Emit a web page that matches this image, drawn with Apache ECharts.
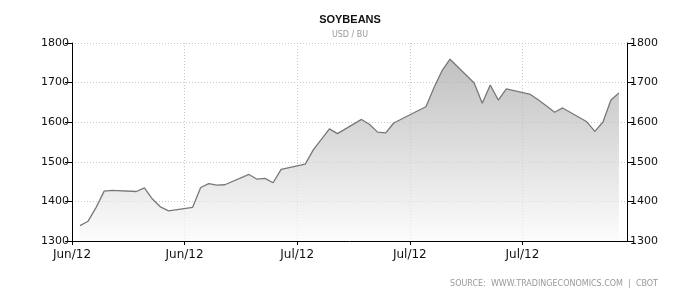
<!DOCTYPE html>
<html>
<head>
<meta charset="utf-8">
<script src="https://cdn.jsdelivr.net/npm/echarts@6/dist/echarts.min.js"></script>
<style>html,body{margin:0;padding:0;background:#fff;}#c{width:700px;height:300px;}</style>
</head>
<body>
<div id="c"></div>
<script>
const dates = [
  '2012-06-04','2012-06-05','2012-06-06','2012-06-07','2012-06-08',
  '2012-06-11','2012-06-12','2012-06-13','2012-06-14','2012-06-15',
  '2012-06-18','2012-06-19','2012-06-20','2012-06-21','2012-06-22',
  '2012-06-25','2012-06-26','2012-06-27','2012-06-28','2012-06-29',
  '2012-07-02','2012-07-03','2012-07-05','2012-07-06',
  '2012-07-09','2012-07-10','2012-07-11','2012-07-12','2012-07-13',
  '2012-07-16','2012-07-17','2012-07-18','2012-07-19','2012-07-20',
  '2012-07-23','2012-07-24','2012-07-25','2012-07-26','2012-07-27',
  '2012-07-30','2012-07-31','2012-08-01','2012-08-02','2012-08-03',
  '2012-08-06','2012-08-07','2012-08-08','2012-08-09','2012-08-10'
];
const prices = [
  1339,1350,1385,1426,1428,
  1425,1434,1406,1386,1376,
  1385,1435,1445,1441,1442,
  1468,1456,1458,1447,1481,
  1494,1530,1583,1571,
  1607,1594,1575,1573,1598,
  1629,1639,1687,1730,1759,
  1699,1648,1694,1656,1684,
  1670,1656,1641,1625,1636,
  1601,1577,1600,1656,1674
];
const xTickLabels = ['Jun/12','Jun/12','Jul/12','Jul/12','Jul/12'];
const axisStart = '2012-06-03';
const axisEnd = '2012-08-11';
const yTicks = [1300,1400,1500,1600,1700,1800];

const DAY = 86400000;
const t0 = Date.parse(axisStart + 'T00:00:00Z');
const dayOf = d => Math.round((Date.parse(d + 'T00:00:00Z') - t0) / DAY);
const xMax = dayOf(axisEnd);
const seriesData = dates.map((d, i) => [dayOf(d), prices[i]]);

const font = 'DejaVu Sans';
const yAxisCommon = {
  type: 'value', min: yTicks[0], max: yTicks[yTicks.length - 1], interval: 100,
  axisLine: {show: true, lineStyle: {color: '#000', width: 1}},
  axisTick: {show: true, length: 7, lineStyle: {color: '#000'}},
  axisLabel: {color: '#111', fontFamily: font, fontSize: 11, margin: 3, formatter: v => String(v)},
  splitLine: {show: true, lineStyle: {color: '#c8c8c8', type: [1, 2]}}
};

const chart = echarts.init(document.getElementById('c'), null, {renderer: 'canvas'});
chart.setOption({
  animation: false,
  backgroundColor: '#fff',
  title: {
    text: 'SOYBEANS', subtext: 'USD / BU', left: 'center', top: 9, itemGap: 6,
    textStyle: {fontFamily: 'Liberation Sans', fontWeight: 'bold', fontSize: 11, color: '#111'},
    subtextStyle: {fontFamily: font, fontSize: 8, color: '#999'}
  },
  graphic: [{
    type: 'text', right: 42, top: 280,
    style: {text: 'SOURCE:  WWW.TRADINGECONOMICS.COM  |  CBOT', fill: '#999', font: '8px "DejaVu Sans"'}
  }],
  grid: {left: 72, right: 73, top: 43, bottom: 59, containLabel: false},
  xAxis: {
    type: 'value', min: 0, max: xMax, interval: 14,
    axisLine: {show: true, onZero: false, lineStyle: {color: '#000', width: 1}},
    axisTick: {show: true, length: 4, lineStyle: {color: '#000'}},
    axisLabel: {
      color: '#111', fontFamily: font, fontSize: 12, margin: 8, showMaxLabel: false,
      formatter: v => xTickLabels[Math.round(v / 14)] || ''
    },
    splitLine: {show: true, lineStyle: {color: '#c8c8c8', type: [1, 2]}}
  },
  yAxis: [
    Object.assign({}, yAxisCommon, {position: 'left'}),
    Object.assign({}, yAxisCommon, {position: 'right', splitLine: {show: false}})
  ],
  series: [{
    type: 'line', yAxisIndex: 0, data: seriesData, symbol: 'none',
    lineStyle: {color: '#787878', width: 1.3},
    areaStyle: {
      origin: 'start',
      color: new echarts.graphic.LinearGradient(0, 0, 0, 1, [
        {offset: 0, color: '#a6a6a6'},
        {offset: 1, color: '#fbfbfb'}
      ])
    }
  }]
});
</script>
</body>
</html>
